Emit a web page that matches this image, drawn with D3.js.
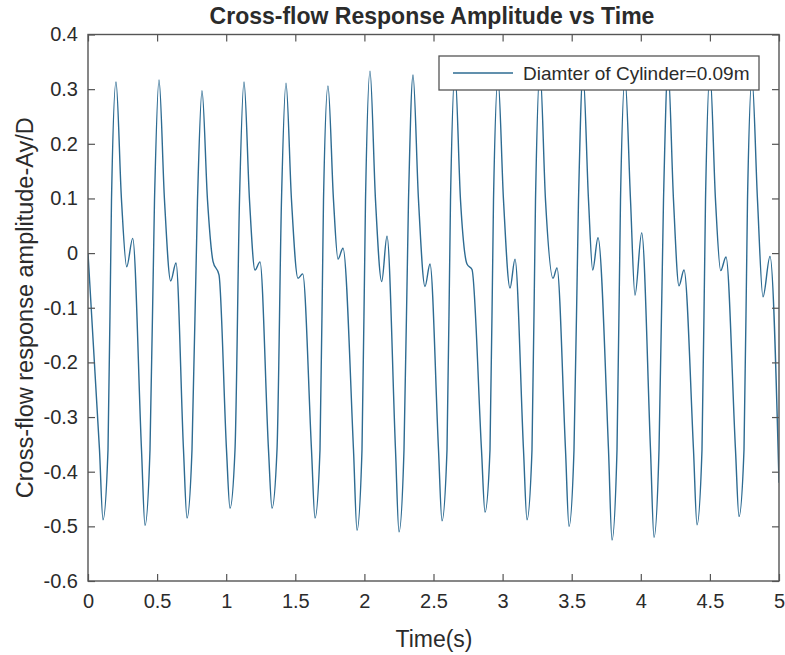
<!DOCTYPE html>
<html>
<head>
<meta charset="utf-8">
<script src="https://cdn.jsdelivr.net/npm/d3@7"></script>
<style>
  body { margin: 0; background: #fff; }
  svg text { font-family: "Liberation Sans", Arial, Helvetica, sans-serif; fill: #2b2b2b; }
</style>
</head>
<body>
<svg id="chart" width="785" height="655"></svg>
<script>
// values: time (s) and Ay/D
var timeS = [
  0, 0.0832, 0.1085,
  0.1447, 0.1700, 0.2026, 0.2424, 0.2800, 0.3234, 0.3871, 0.4124,
  0.4486, 0.4812, 0.5138, 0.5535, 0.5984, 0.6368, 0.6910, 0.7164,
  0.7525, 0.7923, 0.8249, 0.8647, 0.9045, 0.9479, 1.0022, 1.0275,
  1.0637, 1.0962, 1.1288, 1.1686, 1.2084, 1.2446, 1.3061, 1.3314,
  1.3676, 1.4001, 1.4327, 1.4725, 1.5195, 1.5535, 1.6172, 1.6425,
  1.6787, 1.7041, 1.7366, 1.7764, 1.8090, 1.8452, 1.9211, 1.9465,
  1.9826, 2.0080, 2.0405, 2.0803, 2.1252, 2.1635, 2.2250, 2.2504,
  2.2865, 2.3191, 2.3517, 2.3915, 2.4385, 2.4747, 2.5362, 2.5615,
  2.5977, 2.6230, 2.6556, 2.6954, 2.7424, 2.7786, 2.8473, 2.8727,
  2.9088, 2.9342, 2.9667, 3.0065, 3.0536, 3.0897, 3.1512, 3.1766,
  3.2127, 3.2381, 3.2706, 3.3104, 3.3647, 3.3936, 3.4551, 3.4805,
  3.5166, 3.5492, 3.5818, 3.6216, 3.6520, 3.6903, 3.7663, 3.7916,
  3.8278, 3.8531, 3.8857, 3.9255, 3.9580, 4.0065, 4.0702, 4.0955,
  4.1317, 4.1643, 4.1968, 4.2366, 4.2764, 4.3126, 4.3813, 4.4067,
  4.4428, 4.4682, 4.5007, 4.5405, 4.5781, 4.6165, 4.6852, 4.7106,
  4.7467, 4.7721, 4.8046, 4.8444, 4.8842, 4.9349, 5.0
];
var ampYD = [
  0, -0.36, -0.488,
  -0.36, 0.097, 0.313, 0.097, -0.025, 0.027, -0.36, -0.498,
  -0.36, 0.097, 0.317, 0.097, -0.051, -0.018, -0.36, -0.485,
  -0.36, 0.097, 0.297, 0.097, -0.015, -0.040, -0.36, -0.467,
  -0.36, 0.097, 0.313, 0.097, -0.031, -0.016, -0.36, -0.467,
  -0.36, 0.097, 0.311, 0.097, -0.046, -0.038, -0.36, -0.485,
  -0.36, 0.097, 0.306, 0.097, -0.011, 0.009, -0.36, -0.507,
  -0.36, 0.097, 0.333, 0.097, -0.052, 0.031, -0.36, -0.510,
  -0.36, 0.097, 0.326, 0.097, -0.061, -0.020, -0.36, -0.490,
  -0.36, 0.097, 0.330, 0.097, -0.020, -0.030, -0.36, -0.474,
  -0.36, 0.097, 0.320, 0.097, -0.064, -0.011, -0.36, -0.488,
  -0.36, 0.097, 0.335, 0.097, -0.046, -0.027, -0.36, -0.500,
  -0.36, 0.097, 0.330, 0.097, -0.031, 0.028, -0.36, -0.525,
  -0.36, 0.097, 0.320, 0.097, -0.077, 0.037, -0.36, -0.520,
  -0.36, 0.097, 0.340, 0.097, -0.060, -0.031, -0.36, -0.497,
  -0.36, 0.097, 0.330, 0.097, -0.032, -0.007, -0.36, -0.482,
  -0.36, 0.097, 0.320, 0.097, -0.080, -0.006, -0.42
];
var xTicks = [0, 0.5, 1, 1.5, 2, 2.5, 3, 3.5, 4, 4.5, 5];
var yTicks = [-0.6, -0.5, -0.4, -0.3, -0.2, -0.1, 0, 0.1, 0.2, 0.3, 0.4];
var xTickLabels = ["0", "0.5", "1", "1.5", "2", "2.5", "3", "3.5", "4", "4.5", "5"];
var yTickLabels = ["-0.6", "-0.5", "-0.4", "-0.3", "-0.2", "-0.1", "0", "0.1", "0.2", "0.3", "0.4"];
var seriesName = "Diamter of Cylinder=0.09m";

(function() {
  var pLeft = 88, pRight = 779, pTop = 34.5, pBottom = 581;
  var svg = d3.select("#chart");

  var x = d3.scaleLinear().domain([0, 5]).range([pLeft, pRight]);
  var y = d3.scaleLinear().domain([-0.6, 0.4]).range([pBottom, pTop]);

  var points = timeS.map(function(t, i) { return [t, ampYD[i]]; });

  svg.append("clipPath").attr("id", "plotclip")
    .append("rect").attr("x", pLeft).attr("y", pTop)
    .attr("width", pRight - pLeft).attr("height", pBottom - pTop);

  var line = d3.line()
    .x(function(d) { return x(d[0]); })
    .y(function(d) { return y(d[1]); })
    .curve(d3.curveMonotoneX);

  svg.append("path")
    .datum(points)
    .attr("clip-path", "url(#plotclip)")
    .attr("fill", "none")
    .attr("stroke", "#2d6b92")
    .attr("stroke-width", 1.4)
    .attr("d", line);

  // axes, MATLAB style: box with ticks pointing in on all four sides
  var tickLen = 7;
  var axisColor = "#555";

  function styleAxis(g) {
    g.select(".domain").remove();
    g.selectAll(".tick line").attr("stroke", axisColor).attr("stroke-width", 1.2);
  }

  svg.append("g").attr("transform", "translate(0," + pBottom + ")")
    .call(d3.axisBottom(x).tickValues(xTicks).tickSize(-tickLen).tickPadding(13)
      .tickFormat(function(d, i) { return xTickLabels[i]; }))
    .call(styleAxis)
    .selectAll("text").attr("font-size", "20px").attr("fill", "#333")
    .attr("font-family", "'Liberation Sans', Arial, sans-serif");

  svg.append("g").attr("transform", "translate(0," + pTop + ")")
    .call(d3.axisTop(x).tickValues(xTicks).tickSize(-tickLen).tickFormat(""))
    .call(styleAxis);

  svg.append("g").attr("transform", "translate(" + pLeft + ",0)")
    .call(d3.axisLeft(y).tickValues(yTicks).tickSize(-tickLen).tickPadding(10)
      .tickFormat(function(d, i) { return yTickLabels[i]; }))
    .call(styleAxis)
    .selectAll("text").attr("font-size", "20px").attr("fill", "#333")
    .attr("font-family", "'Liberation Sans', Arial, sans-serif");

  svg.append("g").attr("transform", "translate(" + pRight + ",0)")
    .call(d3.axisRight(y).tickValues(yTicks).tickSize(-tickLen).tickFormat(""))
    .call(styleAxis);

  svg.append("rect")
    .attr("x", pLeft).attr("y", pTop)
    .attr("width", pRight - pLeft).attr("height", pBottom - pTop)
    .attr("fill", "none").attr("stroke", axisColor).attr("stroke-width", 1.4);

  // legend
  var lg = svg.append("g");
  lg.append("rect").attr("x", 439).attr("y", 56).attr("width", 320).attr("height", 34)
    .attr("fill", "#fff").attr("stroke", axisColor).attr("stroke-width", 1.3);
  lg.append("line").attr("x1", 453).attr("x2", 513).attr("y1", 73).attr("y2", 73)
    .attr("stroke", "#2d6b92").attr("stroke-width", 1.4);
  lg.append("text").attr("x", 523).attr("y", 80).attr("font-size", "19px").text(seriesName);

  // titles
  svg.append("text").attr("x", 432).attr("y", 24).attr("text-anchor", "middle")
    .attr("font-size", "23px").attr("font-weight", "bold").attr("fill", "#111")
    .text("Cross-flow Response Amplitude vs Time");

  svg.append("text").attr("x", 434).attr("y", 647).attr("text-anchor", "middle")
    .attr("font-size", "23px").text("Time(s)");

  svg.append("text")
    .attr("transform", "translate(33," + ((pTop + pBottom) / 2) + ") rotate(-90)")
    .attr("text-anchor", "middle").attr("font-size", "23.5px")
    .text("Cross-flow response amplitude-Ay/D");
})();
</script>
</body>
</html>
